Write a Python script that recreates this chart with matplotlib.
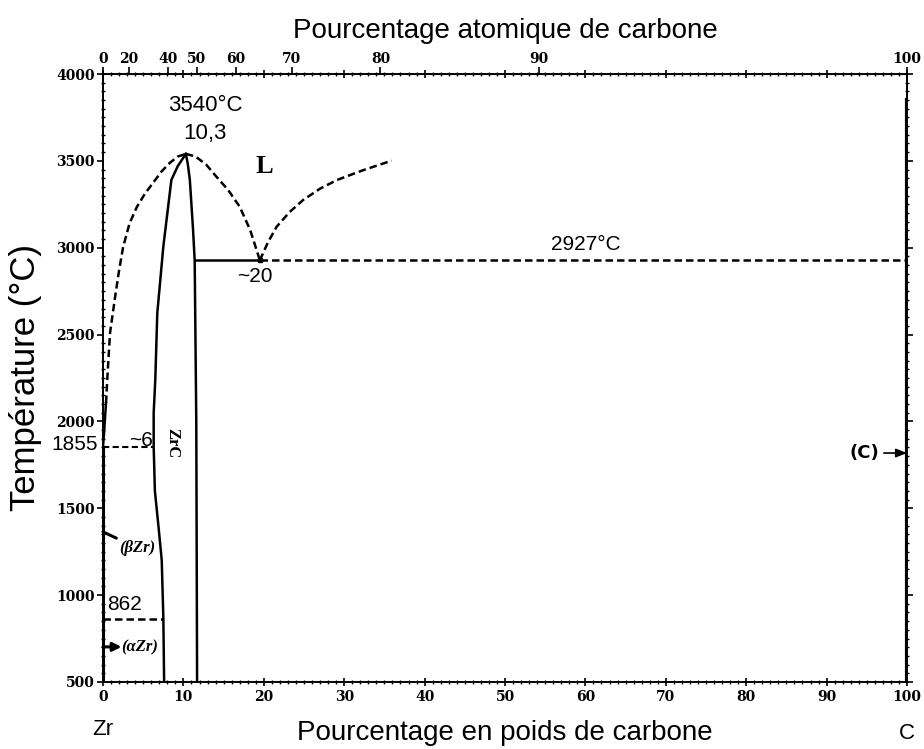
import numpy as np
import matplotlib
matplotlib.use("Agg")
import matplotlib.pyplot as plt
from matplotlib.ticker import MultipleLocator

# ---------------- data ----------------
liq_left_x = [0.0, 0.15, 0.37, 0.6, 0.87, 1.5, 2.0, 2.5, 3.3, 4.2, 5.2, 6.2, 7.3, 8.3, 9.3, 10.3]
liq_left_y = [1855, 1950, 2106, 2300, 2509, 2716, 2870, 3004, 3140, 3234, 3310, 3372, 3440, 3488,
              3525, 3540]

liq_mid_x = [10.3, 11.5, 12.8, 14.1, 15.6, 17.0, 18.3, 19.3, 19.5]
liq_mid_y = [3540, 3525, 3480, 3409, 3330, 3236, 3102, 2958, 2927]

liq_right_x = [19.5, 20.5, 21.6, 23.2, 24.9, 27.0, 29.1, 32.4, 35.9]
liq_right_y = [2927, 3030, 3121, 3205, 3275, 3340, 3390, 3447, 3501]

zrc_left_x = [10.3, 9.3, 8.5, 7.5, 6.75, 6.5, 6.3, 6.3, 6.45, 6.9, 7.3, 7.5, 7.6]
zrc_left_y = [3540, 3470, 3390, 3006, 2624, 2239, 2049, 1855, 1600, 1394, 1202, 876, 500]

zrc_right_x = [10.3, 10.55, 10.8, 11.2, 11.4, 11.6, 11.7]
zrc_right_y = [3540, 3480, 3390, 3102, 2927, 2000, 500]

eutectic_T = 2927
eutectic_x = 19.5
zrc_right_at_eut = 11.4
zr_melt_T = 1855
zr_melt_x_end = 6.3
ab_T = 862
ab_x_end = 7.5
graphite_top = 3850

bottom_ticks = [0, 10, 20, 30, 40, 50, 60, 70, 80, 90, 100]
left_ticks = [500, 1000, 1500, 2000, 2500, 3000, 3500, 4000]
atomic_ticks = [0, 20, 40, 50, 60, 70, 80, 90, 100]

M_C, M_ZR = 12.011, 91.224


def wt_to_at(w):
    w = np.clip(np.asarray(w, dtype=float), 0, 100)
    nc = w / M_C
    nz = (100 - w) / M_ZR
    with np.errstate(divide="ignore", invalid="ignore"):
        r = 100 * nc / (nc + nz)
    return np.nan_to_num(r)


def at_to_wt(a):
    a = np.clip(np.asarray(a, dtype=float), 0, 100)
    mc = a * M_C
    mz = (100 - a) * M_ZR
    with np.errstate(divide="ignore", invalid="ignore"):
        r = 100 * mc / (mc + mz)
    return np.nan_to_num(r)


# ---------------- figure ----------------
fig = plt.figure(figsize=(9.24, 7.49), dpi=100)
ax = fig.add_axes([0.1115, 0.0895, 0.8701, 0.8117])
ax.set_xlim(0, 100)
ax.set_ylim(500, 4000)

lw = 1.8
dash = (0, (3.0, 1.6))
k = "black"

# liquidus
ax.plot(liq_left_x[:3], liq_left_y[:3], color=k, lw=lw)
ax.plot(liq_left_x[2:], liq_left_y[2:], color=k, lw=lw, linestyle=dash)
ax.plot(liq_mid_x, liq_mid_y, color=k, lw=lw, linestyle=dash)
ax.plot(liq_right_x, liq_right_y, color=k, lw=lw, linestyle=dash)

# ZrC field
ax.plot(zrc_left_x, zrc_left_y, color=k, lw=lw)
ax.plot(zrc_right_x, zrc_right_y, color=k, lw=lw)

# eutectic
ax.plot([zrc_right_at_eut, eutectic_x], [eutectic_T, eutectic_T], color=k, lw=lw)
ax.plot([eutectic_x, 100], [eutectic_T, eutectic_T], color=k, lw=lw, linestyle=dash)
ax.plot([eutectic_x], [eutectic_T], marker="s", ms=3, color=k)

# 1855 and 862 isotherms
ax.plot([0, zr_melt_x_end], [zr_melt_T, zr_melt_T], color=k, lw=1.5, linestyle=dash)
ax.plot([0, ab_x_end], [ab_T, ab_T], color=k, lw=1.8, linestyle=dash)

# Zr side and graphite line
ax.plot([0, 0], [500, zr_melt_T], color=k, lw=2.2)
ax.plot([100, 100], [500, graphite_top], color=k, lw=3)

# ---------------- annotations ----------------
sans = "Liberation Sans"
ax.text(12.7, 3816, "3540°C", ha="center", va="center", fontsize=16, family=sans)
ax.text(12.7, 3660, "10,3", ha="center", va="center", fontsize=16, family=sans)
ax.text(20.1, 3470, "L", ha="center", va="center", fontsize=19, family="Liberation Serif",
        weight="bold")
ax.text(18.9, 2837, "~20", ha="center", va="center", fontsize=15, family=sans)
ax.text(60.0, 3016, "2927°C", ha="center", va="center", fontsize=15, family=sans)
ax.text(6.2, 1890, "~6", ha="right", va="center", fontsize=15, family=sans)
ax.text(-0.6, zr_melt_T + 10, "1855", ha="right", va="center", fontsize=15, family=sans,
        clip_on=False)
ax.text(0.5, 890, "862", ha="left", va="bottom", fontsize=15, family=sans)
ax.text(8.55, 1876, "ZrC", ha="center", va="center", fontsize=12, family="Liberation Serif",
        weight="bold", rotation=-90)

ax.annotate("(βZr)", xy=(0, 1364), xytext=(2.0, 1272), fontsize=12,
            family="Liberation Serif", weight="bold", style="italic",
            ha="left", va="center",
            arrowprops=dict(arrowstyle="-", color=k, lw=2.2, shrinkA=0, shrinkB=0))
ax.annotate("", xy=(2.3, 702), xytext=(0, 702),
            arrowprops=dict(arrowstyle="-|>,head_width=0.25,head_length=0.5", color=k, lw=2.2,
                            shrinkA=0, shrinkB=0))
ax.text(2.3, 700, "(αZr)", fontsize=12, family="Liberation Serif", weight="bold",
        style="italic", ha="left", va="center")
ax.annotate("(C)", xy=(100, 1818), xytext=(96.6, 1818), fontsize=13, family="DejaVu Sans",
            weight="bold", ha="right", va="center",
            arrowprops=dict(arrowstyle="-|>,head_width=0.2,head_length=0.5", color=k, lw=1.2,
                            shrinkA=1, shrinkB=0))

ax.text(0, -0.078, "Zr", transform=ax.get_xaxis_transform(), ha="center", va="center",
        fontsize=16, family=sans)
ax.text(100, -0.085, "C", transform=ax.get_xaxis_transform(), ha="center", va="center",
        fontsize=16, family=sans)

# ---------------- axes / ticks ----------------
for s in ax.spines.values():
    s.set_linewidth(1.4)
ax.set_xticks(bottom_ticks)
ax.set_yticks(left_ticks)
ax.xaxis.set_minor_locator(MultipleLocator(1))
ax.yaxis.set_minor_locator(MultipleLocator(50))
ax.tick_params(axis="both", which="major", direction="out", length=4, width=1.2,
               labelsize=10, pad=2, top=True, right=True)
ax.tick_params(axis="both", which="minor", direction="inout", length=3, width=1.0,
               top=True, right=True)
ax.tick_params(axis="x", which="major", top=True, direction="inout", length=6, pad=3)
for lab in ax.get_xticklabels() + ax.get_yticklabels():
    lab.set_fontfamily("DejaVu Serif")
    lab.set_fontweight("bold")

ax.set_xlabel("Pourcentage en poids de carbone", fontsize=20, family=sans, labelpad=11)
ax.set_ylabel("Température (°C)", fontsize=25, family=sans, labelpad=10)

sec = ax.secondary_xaxis("top", functions=(wt_to_at, at_to_wt))
sec.set_xticks(atomic_ticks)
sec.tick_params(direction="out", length=5, width=1.2, labelsize=10, pad=1)
for lab in sec.get_xticklabels():
    lab.set_fontfamily("DejaVu Serif")
    lab.set_fontweight("bold")
sec.set_xlabel("Pourcentage atomique de carbone", fontsize=20, family=sans, labelpad=10)

fig.savefig("out.png", dpi=100)
